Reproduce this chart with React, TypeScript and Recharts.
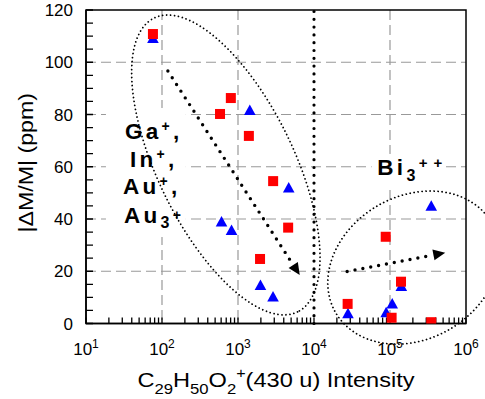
import React from 'react';
import {
  ScatterChart,
  Scatter,
  XAxis,
  YAxis,
  CartesianGrid,
  ReferenceLine,
  ReferenceArea,
  ReferenceDot,
  Label,
} from 'recharts';

const FONT = '"Liberation Sans", Arial, Helvetica, sans-serif';

// Red squares: x = C29H50O2+ (430 u) intensity, y = |ΔM/M| (ppm)
const redX = [76, 580, 805, 1390, 2900, 4570, 1950, 87800, 139600, 27700, 105000, 349000];
const redY = [110.8, 80.2, 86.3, 71.8, 54.5, 36.7, 24.7, 33.2, 16.0, 7.5, 2.2, 0.5];

// Blue triangles
const blueX = [76, 1430, 607, 822, 4650, 1975, 2890, 349000, 141000, 107000, 89000, 28000];
const blueY = [109.3, 81.7, 39.0, 35.8, 52.1, 14.7, 10.3, 45.1, 14.4, 7.7, 4.3, 3.9];

// Axes
const xDomain = [10, 1000000];
const yDomain = [0, 120];
const xMajorTicks = [10, 100, 1000, 10000, 100000, 1000000];
const xExponents = ['1', '2', '3', '4', '5', '6'];
const xMinorMultipliers = [1, 2, 3, 4, 5, 6, 7, 8, 9];
const yTicks = [0, 5, 10, 15, 20, 25, 30, 35, 40, 45, 50, 55, 60, 65, 70, 75, 80, 85, 90, 95, 100, 105, 110, 115, 120];
const yLabelTicks = [0, 20, 40, 60, 80, 100, 120];
const gridX = [100, 1000, 100000];
const gridY = [20, 40, 60, 80, 100];

// Annotations (data coordinates)
const divider = 10000;
const leftEllipseCenter = { x: 692, y: 60.7 };
const rightEllipseCenter = { x: 204000, y: 21.4 };
const leftArrow = [{ x: 119.5, y: 96.65 }, { x: 6490, y: 18.56 }];
const rightArrow = [{ x: 27300, y: 19.9 }, { x: 533000, y: 27.1 }];
const ionBox = { x1: 18.3, x2: 206, y1: 33.1, y2: 82.5 };
const biBox = { x1: 57300, x2: 521000, y1: 53, y2: 64.9 };

const xTicks: number[] = [];
for (let i = 0; i < xMajorTicks.length - 1; i++) {
  for (const m of xMinorMultipliers) xTicks.push(xMajorTicks[i] * m);
}
xTicks.push(xMajorTicks[xMajorTicks.length - 1]);

const redData = redX.map((x, i) => ({ x, y: redY[i] }));
const blueData = blueX.map((x, i) => ({ x, y: blueY[i] }));

const X_MARGIN = 31.5;
const Y_MARGIN = 13;

const XTick = (props: any) => {
  const { x, y, payload } = props;
  const idx = xMajorTicks.indexOf(payload.value);
  if (idx < 0) return <g />;
  return (
    <text x={x} y={y} textAnchor="middle" fontFamily={FONT} fontSize={17} fill="#000">
      10
      <tspan fontSize={12} dy={-7.5}>
        {xExponents[idx]}
      </tspan>
    </text>
  );
};

const YTick = (props: any) => {
  const { x, y, payload } = props;
  if (!yLabelTicks.includes(payload.value)) return <g />;
  return (
    <text x={x} y={y} dy={6} textAnchor="end" fontFamily={FONT} fontSize={17} fill="#000">
      {payload.value}
    </text>
  );
};

const XTitle = (props: any) => {
  const vb = props.viewBox || { x: 86, y: 323.5, width: 380, height: 75.5 };
  const cx = vb.x + vb.width / 2;
  const by = vb.y + 63;
  return (
    <g transform={`translate(${cx},${by}) scale(1.15,1)`}>
      <text x={0} y={0} textAnchor="middle" fontFamily={FONT} fontSize={20.5} fill="#000">
        C
        <tspan fontSize={14.5} dy={7}>29</tspan>
        <tspan dy={-7}>H</tspan>
        <tspan fontSize={14.5} dy={7}>50</tspan>
        <tspan dy={-7}>O</tspan>
        <tspan fontSize={14.5} dy={7}>2</tspan>
        <tspan fontSize={14} dy={-16}>+</tspan>
        <tspan dy={9}>(430 u) Intensity</tspan>
      </text>
    </g>
  );
};

const YTitle = (props: any) => {
  const vb = props.viewBox || { x: 0, y: 10, width: 86, height: 313.5 };
  const cy = vb.y + vb.height / 2 - 4;
  const bx = vb.x + 33;
  return (
    <g transform={`translate(${bx},${cy}) rotate(-90) scale(1.13,1)`}>
      <text x={0} y={0} textAnchor="middle" fontFamily={FONT} fontSize={20.5} fill="#000">
        |ΔM/M| (ppm)
      </text>
    </g>
  );
};

// Plot frame with inward-pointing ticks (drawn along the frame of the plot area)
const Frame = (p: any) => {
  const { x, y, width, height } = p;
  const lx0 = Math.log10(xDomain[0]);
  const lx1 = Math.log10(xDomain[1]);
  const bottom = y + height;
  const segs: string[] = [];
  xTicks.forEach((v) => {
    const px = x + (width * (Math.log10(v) - lx0)) / (lx1 - lx0);
    segs.push(`M${px},${bottom}V${bottom - 6}`);
  });
  yTicks.forEach((v) => {
    const py = bottom - (height * (v - yDomain[0])) / (yDomain[1] - yDomain[0]);
    segs.push(`M${x},${py}H${x + 7}`);
  });
  return (
    <g>
      <path d={segs.join('')} stroke="#000" strokeWidth={1.3} fill="none" />
      <rect x={x} y={y} width={width} height={height} fill="none" stroke="#000" strokeWidth={1.5} />
    </g>
  );
};

const Square = (p: any) => (
  <rect x={p.cx - 5} y={p.cy - 5} width={10} height={10} fill="#ff0000" />
);

const Triangle = (p: any) => (
  <polygon
    points={`${p.cx},${p.cy - 5.5} ${p.cx + 5.8},${p.cy + 5} ${p.cx - 5.8},${p.cy + 5}`}
    fill="#0000ff"
  />
);

const ArrowShape = (p: any) => {
  const { x1, y1, x2, y2 } = p;
  const dx = x2 - x1;
  const dy = y2 - y1;
  const len = Math.hypot(dx, dy);
  const ux = dx / len;
  const uy = dy / len;
  const headLen = 12;
  const headW = 5.5;
  const bx = x2 - ux * headLen;
  const by = y2 - uy * headLen;
  return (
    <g>
      <line
        x1={x1}
        y1={y1}
        x2={bx - ux * 3}
        y2={by - uy * 3}
        stroke="#000"
        strokeWidth={3.4}
        strokeDasharray="0 8"
        strokeLinecap="round"
      />
      <polygon
        points={`${x2},${y2} ${bx - uy * headW},${by + ux * headW} ${bx + uy * headW},${by - ux * headW}`}
        fill="#000"
      />
    </g>
  );
};

const makeEllipse = (rx: number, ry: number, angle: number) => (p: any) => (
  <ellipse
    cx={p.cx}
    cy={p.cy}
    rx={rx}
    ry={ry}
    transform={`rotate(${angle} ${p.cx} ${p.cy})`}
    fill="none"
    stroke="#000"
    strokeWidth={1.8}
    strokeDasharray="0 4"
    strokeLinecap="round"
  />
);

const boldText = {
  fontFamily: FONT,
  fontWeight: 700 as const,
  fontSize: 22.5,
  letterSpacing: 3.3,
  fill: '#000',
};

const IonLabel = (p: any) => {
  const { x, y, width, height } = p;
  return (
    <g>
      <rect x={x} y={y} width={width} height={height} fill="#fff" />
      <text x={x + 19} y={y + 31} {...boldText}>
        Ga<tspan fontSize={14} dy={-7.5}>+</tspan>
        <tspan dy={7.5}>,</tspan>
      </text>
      <text x={x + 24} y={y + 59} {...boldText}>
        In<tspan fontSize={14} dy={-7.5}>+</tspan>
        <tspan dy={7.5}>,</tspan>
      </text>
      <text x={x + 17} y={y + 86} {...boldText}>
        Au<tspan fontSize={14} dy={-7.5}>+</tspan>
        <tspan dy={7.5}>,</tspan>
      </text>
      <text x={x + 18} y={y + 114.7} {...boldText}>
        Au<tspan fontSize={16} dy={5}>3</tspan>
        <tspan fontSize={14} dy={-8}>+</tspan>
      </text>
    </g>
  );
};

const BiLabel = (p: any) => {
  const { x, y, width, height } = p;
  return (
    <g>
      <rect x={x} y={y} width={width} height={height} fill="#fff" />
      <text x={x + 5.7} y={y + 21} {...boldText}>
        Bi<tspan fontSize={16} dy={5.7}>3</tspan>
        <tspan fontSize={15} dy={-13} letterSpacing={6}>++</tspan>
      </text>
    </g>
  );
};

export default function App() {
  return (
    <div style={{ position: 'absolute', left: 0, top: 0, width: 485, height: 399, background: '#fff' }}>
      <ScatterChart width={485} height={399} margin={{ top: 10, right: 19, bottom: 0, left: 0 }}>
        <CartesianGrid
          stroke="#999"
          strokeWidth={1.2}
          strokeDasharray="10 5"
          horizontalValues={gridY}
          verticalValues={gridX}
        />
        <XAxis
          dataKey="x"
          type="number"
          scale="log"
          domain={xDomain}
          allowDataOverflow
          ticks={xTicks}
          interval={0}
          tickSize={0}
          tickMargin={X_MARGIN}
          tick={XTick}
          axisLine={{ stroke: '#000', strokeWidth: 1.5 }}
          tickLine={false}
          height={75.5}
          label={<Label content={XTitle} />}
        />
        <YAxis
          dataKey="y"
          type="number"
          domain={yDomain}
          allowDataOverflow
          ticks={yTicks}
          interval={0}
          tickSize={0}
          tickMargin={Y_MARGIN}
          tick={YTick}
          axisLine={{ stroke: '#000', strokeWidth: 1.5 }}
          tickLine={false}
          width={86}
          label={<Label content={YTitle} />}
        />
        <ReferenceLine
          x={divider}
          stroke="#000"
          strokeWidth={3.2}
          strokeDasharray="0 7.8"
          strokeLinecap="round"
        />
        <ReferenceDot
          x={leftEllipseCenter.x}
          y={leftEllipseCenter.y}
          ifOverflow="visible"
          shape={makeEllipse(163.5, 68, 64)}
        />
        <ReferenceDot
          x={rightEllipseCenter.x}
          y={rightEllipseCenter.y}
          ifOverflow="visible"
          shape={makeEllipse(90, 71.5, -30)}
        />
        <ReferenceArea
          x1={ionBox.x1}
          x2={ionBox.x2}
          y1={ionBox.y1}
          y2={ionBox.y2}
          ifOverflow="visible"
          shape={IonLabel}
        />
        <ReferenceArea
          x1={biBox.x1}
          x2={biBox.x2}
          y1={biBox.y1}
          y2={biBox.y2}
          ifOverflow="visible"
          shape={BiLabel}
        />
        <Scatter data={blueData} shape={Triangle} isAnimationActive={false} />
        <Scatter data={redData} shape={Square} isAnimationActive={false} />
        <ReferenceLine segment={leftArrow} ifOverflow="visible" shape={ArrowShape} />
        <ReferenceLine segment={rightArrow} ifOverflow="visible" shape={ArrowShape} />
        <ReferenceArea
          x1={xDomain[0]}
          x2={xDomain[1]}
          y1={yDomain[0]}
          y2={yDomain[1]}
          ifOverflow="visible"
          shape={Frame}
        />
      </ScatterChart>
    </div>
  );
}
